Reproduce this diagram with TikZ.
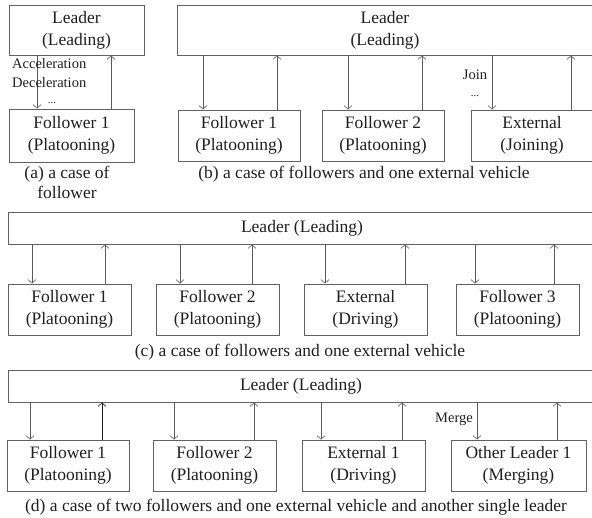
\documentclass[tikz,border=0pt]{standalone}
\usepackage{fontspec}
\setmainfont{Liberation Serif}
\usetikzlibrary{arrows.meta}
\begin{document}
\begin{tikzpicture}[x=1pt,y=-1pt,
  box/.style={draw=black!62,line width=0.9pt,rectangle,inner sep=0pt,align=center,
    text=black!88,font=\fontsize{17.5}{22}\selectfont},
  arr/.style={draw=black!65,line width=0.8pt,-{Straight Barb[length=3.5pt,width=8pt,line width=0.6pt]}},
  lbl/.style={inner sep=0pt,text=black!88,font=\fontsize{14.5}{17}\selectfont},
  dotlbl/.style={inner sep=0pt,text=black!88,font=\fontsize{11}{12}\selectfont},
  captxt/.style={inner sep=0pt,align=center,text=black!88,font=\fontsize{17.5}{20}\selectfont}]
\useasboundingbox (0,0) rectangle (592,518);
\clip (0,0) rectangle (592,518);
% (a)
\node[box,minimum width=135pt,minimum height=50pt] (La) at (76.5,30) {Leader\\(Leading)};
\node[box,minimum width=125pt,minimum height=53pt] (Fa) at (71.5,135.5) {Follower 1\\(Platooning)};
\draw[arr] (37,0 |- La.south) -- (37,0 |- Fa.north);
\draw[arr] (111,0 |- Fa.north) -- (111,0 |- La.south);
\node[lbl,anchor=west] (acc) at (12,64) {Acceleration};
\node[lbl,anchor=west] (dec) at (12,83) {Deceleration};
\node[dotlbl] (dotsa) at (52,103) {...};
\node[captxt] (capa) at (67,182) {(a) a case of\\follower};
% (b)
\node[box,minimum width=416pt,minimum height=50pt] (Lb) at (385,30) {Leader\\(Leading)};
\node[box,minimum width=122pt,minimum height=51pt] (Fb1) at (239,135.5) {Follower 1\\(Platooning)};
\node[box,minimum width=122pt,minimum height=51pt] (Fb2) at (383,135.5) {Follower 2\\(Platooning)};
\node[box,minimum width=122pt,minimum height=51pt] (Eb) at (532,135.5) {External\\(Joining)};
\draw[arr] (203,0 |- Lb.south) -- (203,0 |- Fb1.north);
\draw[arr] (277,0 |- Fb1.north) -- (277,0 |- Lb.south);
\draw[arr] (348,0 |- Lb.south) -- (348,0 |- Fb2.north);
\draw[arr] (422,0 |- Fb2.north) -- (422,0 |- Lb.south);
\draw[arr] (492,0 |- Lb.south) -- (492,0 |- Eb.north);
\draw[arr] (571,0 |- Eb.north) -- (571,0 |- Lb.south);
\node[lbl] (join) at (475,75) {Join};
\node[dotlbl] (dotsb) at (475,96) {...};
\node[captxt] (capb) at (364,174) {(b) a case of followers and one external vehicle};
% (c)
\node[box,minimum width=588pt,minimum height=32pt] (Lc) at (302,228) {Leader (Leading)};
\node[box,minimum width=123pt,minimum height=51pt] (Fc1) at (69.5,309.5) {Follower 1\\(Platooning)};
\node[box,minimum width=123pt,minimum height=51pt] (Fc2) at (217.5,309.5) {Follower 2\\(Platooning)};
\node[box,minimum width=123pt,minimum height=51pt] (Ec) at (365.5,309.5) {External\\(Driving)};
\node[box,minimum width=123pt,minimum height=51pt] (Fc3) at (517.5,309.5) {Follower 3\\(Platooning)};
\draw[arr] (32,0 |- Lc.south) -- (32,0 |- Fc1.north);
\draw[arr] (105,0 |- Fc1.north) -- (105,0 |- Lc.south);
\draw[arr] (180,0 |- Lc.south) -- (180,0 |- Fc2.north);
\draw[arr] (252,0 |- Fc2.north) -- (252,0 |- Lc.south);
\draw[arr] (325,0 |- Lc.south) -- (325,0 |- Ec.north);
\draw[arr] (405,0 |- Ec.north) -- (405,0 |- Lc.south);
\draw[arr] (475,0 |- Lc.south) -- (475,0 |- Fc3.north);
\draw[arr] (554,0 |- Fc3.north) -- (554,0 |- Lc.south);
\node[captxt] (capc) at (300,352) {(c) a case of followers and one external vehicle};
% (d)
\node[box,minimum width=586pt,minimum height=32pt] (Ld) at (301,386) {Leader (Leading)};
\node[box,minimum width=122pt,minimum height=51pt] (Fd1) at (68,465.5) {Follower 1\\(Platooning)};
\node[box,minimum width=123pt,minimum height=51pt] (Fd2) at (214.5,465.5) {Follower 2\\(Platooning)};
\node[box,minimum width=123pt,minimum height=51pt] (Ed) at (363.5,465.5) {External 1\\(Driving)};
\node[box,minimum width=135pt,minimum height=51pt] (Od) at (518.5,465.5) {Other Leader 1\\(Merging)};
\draw[arr] (30,0 |- Ld.south) -- (30,0 |- Fd1.north);
\draw[arr,draw=black!90] (102,0 |- Fd1.north) -- (102,0 |- Ld.south);
\draw[arr] (174,0 |- Ld.south) -- (174,0 |- Fd2.north);
\draw[arr] (254,0 |- Fd2.north) -- (254,0 |- Ld.south);
\draw[arr] (321,0 |- Ld.south) -- (321,0 |- Ed.north);
\draw[arr] (402,0 |- Ed.north) -- (402,0 |- Ld.south);
\draw[arr] (477,0 |- Ld.south) -- (477,0 |- Od.north);
\draw[arr] (557,0 |- Od.north) -- (557,0 |- Ld.south);
\node[lbl] (merge) at (454,419) {Merge};
\node[captxt] (capd) at (296,507) {(d) a case of two followers and one external vehicle and another single leader};
\end{tikzpicture}
\end{document}
